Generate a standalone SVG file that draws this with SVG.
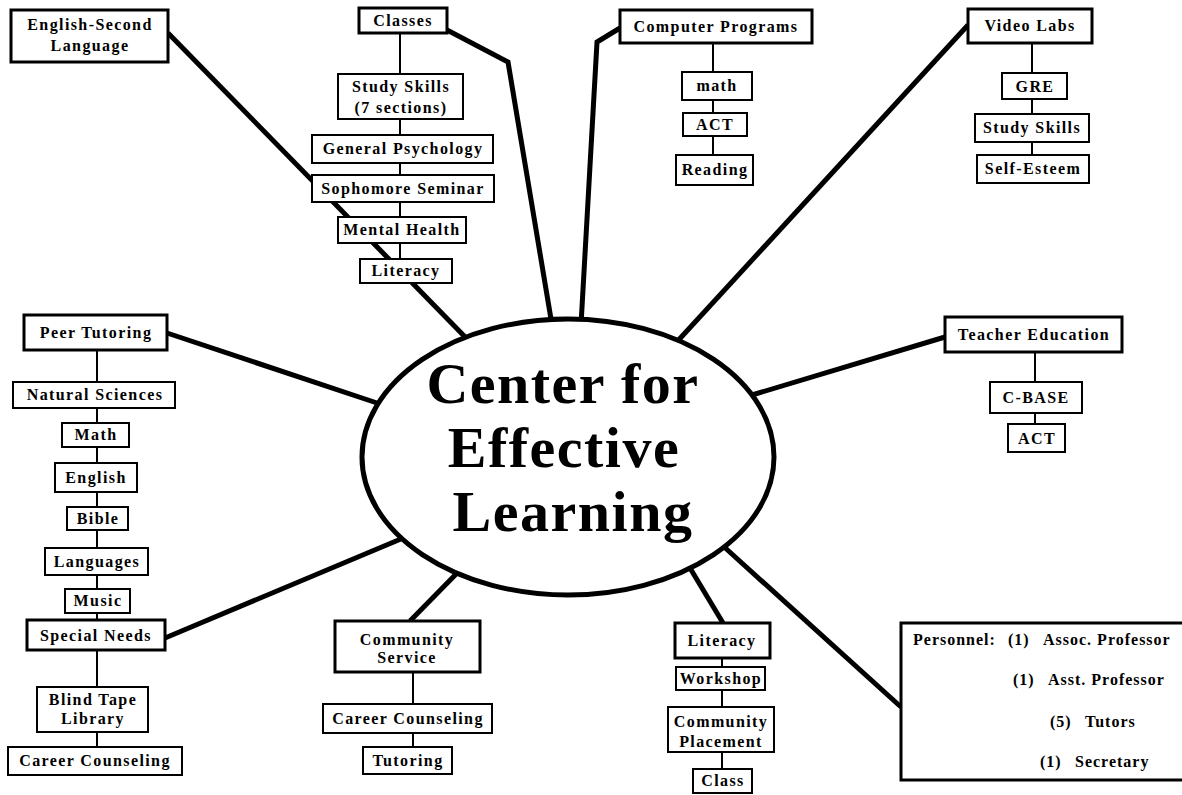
<svg xmlns="http://www.w3.org/2000/svg" width="1182" height="795" viewBox="0 0 1182 795">
<style>
.bg{fill:#fff}
.main{fill:#fff;stroke:#000;stroke-width:3}
.sub{fill:#fff;stroke:#000;stroke-width:2}
.t{font-family:"Liberation Serif","Times New Roman",serif;font-weight:bold;font-size:16px;letter-spacing:1.4px;text-anchor:middle;fill:#000}
.tl{font-family:"Liberation Serif","Times New Roman",serif;font-weight:bold;font-size:16px;letter-spacing:1px;fill:#000}
.big{font-family:"Liberation Serif","Times New Roman",serif;font-weight:bold;font-size:58px;letter-spacing:1.5px;text-anchor:middle;fill:#000}
.thick{fill:none;stroke:#000;stroke-width:5;stroke-linejoin:miter}
.thin{fill:none;stroke:#000;stroke-width:2}
</style>
<rect class="bg" x="0" y="0" width="1182" height="795"/>
<g id="connectors">
<line class="thick" x1="168" y1="33" x2="470" y2="342"/>
<polyline class="thick" points="447,30 508,62 552,325"/>
<polyline class="thick" points="620,28 597,42 581,325"/>
<line class="thick" x1="968" y1="25" x2="674" y2="345"/>
<line class="thick" x1="945" y1="337" x2="752" y2="395"/>
<line class="thick" x1="167" y1="333" x2="380" y2="404"/>
<line class="thick" x1="165" y1="638" x2="408" y2="536"/>
<line class="thick" x1="410" y1="621" x2="462" y2="568"/>
<line class="thick" x1="723" y1="623" x2="690" y2="568"/>
<line class="thick" x1="722" y1="545" x2="901" y2="707"/>
<line class="thin" x1="400" y1="33" x2="400" y2="259"/>
<line class="thin" x1="713" y1="43" x2="713" y2="155"/>
<line class="thin" x1="1032" y1="43" x2="1032" y2="155"/>
<line class="thin" x1="1035" y1="352" x2="1035" y2="424"/>
<line class="thin" x1="97" y1="350" x2="97" y2="747"/>
<line class="thin" x1="413" y1="672" x2="413" y2="747"/>
<line class="thin" x1="722" y1="658" x2="722" y2="769"/>
</g>
<g id="center">
<ellipse cx="568" cy="457" rx="206" ry="138" fill="#fff" stroke="#000" stroke-width="5"/>
<text class="big" x="563" y="403">Center for</text>
<text class="big" x="564" y="467">Effective</text>
<text class="big" x="573" y="531">Learning</text>
</g>
<g id="esl"><rect class="main" x="11" y="10" width="157" height="52"/><text class="t" x="90" y="30">English-Second</text><text class="t" x="90" y="51">Language</text></g>
<g id="classes"><rect class="main" x="359" y="8" width="88" height="25"/><text class="t" x="403" y="26">Classes</text></g>
<g id="study-skills-7"><rect class="sub" x="338" y="74" width="125" height="45"/><text class="t" x="401" y="92">Study Skills</text><text class="t" x="401" y="113">(7 sections)</text></g>
<g id="gen-psych"><rect class="sub" x="312" y="135" width="181" height="28"/><text class="t" x="403" y="154">General Psychology</text></g>
<g id="sophomore"><rect class="sub" x="312" y="175" width="182" height="27"/><text class="t" x="403" y="194">Sophomore Seminar</text></g>
<g id="mental-health"><rect class="sub" x="338" y="217" width="128" height="26"/><text class="t" x="402" y="235">Mental Health</text></g>
<g id="literacy-top"><rect class="sub" x="360" y="259" width="92" height="24"/><text class="t" x="406" y="276">Literacy</text></g>
<g id="computer"><rect class="main" x="620" y="10" width="192" height="33"/><text class="t" x="716" y="32">Computer Programs</text></g>
<g id="math"><rect class="sub" x="682" y="72" width="70" height="28"/><text class="t" x="717" y="91">math</text></g>
<g id="act1"><rect class="sub" x="683" y="113" width="64" height="23"/><text class="t" x="715" y="130">ACT</text></g>
<g id="reading"><rect class="sub" x="676" y="155" width="77" height="30"/><text class="t" x="715" y="175">Reading</text></g>
<g id="video"><rect class="main" x="968" y="9" width="124" height="34"/><text class="t" x="1030" y="31">Video Labs</text></g>
<g id="gre"><rect class="sub" x="1002" y="73" width="65" height="26"/><text class="t" x="1035" y="92">GRE</text></g>
<g id="study-skills"><rect class="sub" x="975" y="114" width="114" height="28"/><text class="t" x="1032" y="133">Study Skills</text></g>
<g id="self-esteem"><rect class="sub" x="977" y="155" width="112" height="28"/><text class="t" x="1033" y="174">Self-Esteem</text></g>
<g id="teacher"><rect class="main" x="945" y="317" width="177" height="35"/><text class="t" x="1034" y="340">Teacher Education</text></g>
<g id="cbase"><rect class="sub" x="990" y="382" width="92" height="31"/><text class="t" x="1036" y="403">C-BASE</text></g>
<g id="act2"><rect class="sub" x="1008" y="424" width="57" height="28"/><text class="t" x="1037" y="444">ACT</text></g>
<g id="peer"><rect class="main" x="24" y="315" width="143" height="35"/><text class="t" x="96" y="338">Peer Tutoring</text></g>
<g id="natsci"><rect class="sub" x="13" y="382" width="162" height="26"/><text class="t" x="95" y="400">Natural Sciences</text></g>
<g id="math2"><rect class="sub" x="62" y="423" width="67" height="24"/><text class="t" x="96" y="440">Math</text></g>
<g id="english"><rect class="sub" x="55" y="463" width="82" height="29"/><text class="t" x="96" y="483">English</text></g>
<g id="bible"><rect class="sub" x="67" y="507" width="61" height="23"/><text class="t" x="98" y="524">Bible</text></g>
<g id="languages"><rect class="sub" x="45" y="548" width="103" height="27"/><text class="t" x="97" y="567">Languages</text></g>
<g id="music"><rect class="sub" x="65" y="589" width="65" height="24"/><text class="t" x="98" y="606">Music</text></g>
<g id="special"><rect class="main" x="27" y="620" width="138" height="30"/><text class="t" x="96" y="641">Special Needs</text></g>
<g id="blind"><rect class="sub" x="37" y="687" width="111" height="45"/><text class="t" x="93" y="705">Blind Tape</text><text class="t" x="93" y="724">Library</text></g>
<g id="career1"><rect class="sub" x="8" y="747" width="174" height="28"/><text class="t" x="95" y="766">Career Counseling</text></g>
<g id="community"><rect class="main" x="335" y="621" width="145" height="51"/><text class="t" x="407" y="645">Community</text><text class="t" x="407" y="663">Service</text></g>
<g id="career2"><rect class="sub" x="323" y="704" width="169" height="29"/><text class="t" x="408" y="724">Career Counseling</text></g>
<g id="tutoring"><rect class="sub" x="363" y="747" width="89" height="27"/><text class="t" x="408" y="766">Tutoring</text></g>
<g id="literacy-bottom"><rect class="main" x="675" y="623" width="95" height="35"/><text class="t" x="722" y="646">Literacy</text></g>
<g id="workshop"><rect class="sub" x="676" y="667" width="89" height="23"/><text class="t" x="721" y="684">Workshop</text></g>
<g id="comm-placement"><rect class="sub" x="668" y="707" width="106" height="45"/><text class="t" x="721" y="727">Community</text><text class="t" x="721" y="747">Placement</text></g>
<g id="class"><rect class="sub" x="693" y="769" width="59" height="24"/><text class="t" x="723" y="786">Class</text></g>
<g id="personnel"><rect class="main" x="901" y="623" width="300" height="157"/>
<text class="tl" x="913" y="645">Personnel:</text><text class="tl" x="1008" y="645">(1)</text><text class="tl" x="1043" y="645">Assoc. Professor</text>
<text class="tl" x="1013" y="685">(1)</text><text class="tl" x="1048" y="685">Asst. Professor</text>
<text class="tl" x="1050" y="727">(5)</text><text class="tl" x="1085" y="727">Tutors</text>
<text class="tl" x="1040" y="767">(1)</text><text class="tl" x="1075" y="767">Secretary</text>
</g>
</svg>
